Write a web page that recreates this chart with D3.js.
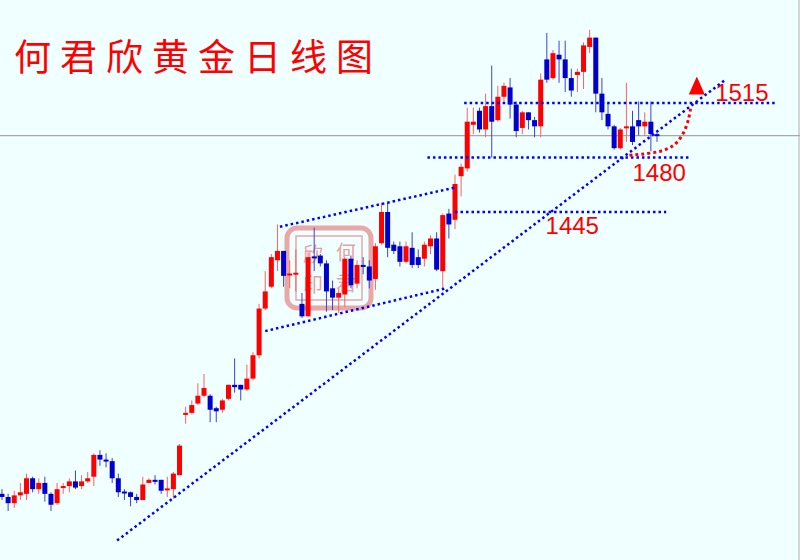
<!DOCTYPE html>
<html><head><meta charset="utf-8">
<script src="https://cdn.jsdelivr.net/npm/d3@7"></script>
<style>body{margin:0;background:#f0ffff}svg{display:block}</style>
</head><body><svg id="c" width="800" height="560"></svg>
<script>
// candles: [open, high, low, close]
const candles = [
[1264,1267,1260,1262],[1262,1264,1253,1258],[1258,1266,1255,1263],[1263,1271,1260,1265],[1264,1277,1260,1274],
[1274,1275,1265,1267],[1267,1274,1264,1271],[1271,1275,1259,1264],[1264,1265,1253,1257],[1258,1271,1257,1267],
[1268,1271,1264,1269],[1269,1274,1265,1272],[1272,1279,1267,1268],[1269,1276,1267,1272],[1272,1278,1271,1274],
[1275,1290,1269,1289],[1289,1292,1282,1286],[1286,1290,1281,1285],[1285,1287,1271,1274],[1274,1277,1262,1265],
[1265.5,1267,1260,1264.8],[1265,1265.5,1256,1262],[1262,1264,1258,1260],[1260,1275,1260,1270],[1271,1274,1271,1273],
[1273,1276,1270,1272.5],[1273,1273,1264,1266],[1267,1275,1262,1267.5],[1267,1278,1261,1277],[1276,1296,1276,1295],
[1315.5,1320,1309,1316],[1316,1324,1315,1321],[1322,1335,1321,1327],[1327,1341,1326,1332],[1327,1328,1310,1318],
[1319,1320,1310,1317],[1318,1325,1316,1324],[1325,1334,1324,1334],[1334,1351,1329,1332.5],[1334,1334,1324,1331],
[1331,1347,1330,1338],[1338,1355,1337,1353],[1353,1386,1351,1383],[1383,1407,1382,1394],[1397,1418,1396,1416],
[1414,1437,1407,1420],[1420,1420,1397,1404],[1405,1414,1396,1405.5],[1405,1421,1394,1406],[1386,1393,1377,1378],
[1378,1419,1378,1416],[1416.5,1435,1407,1416],[1417,1418,1410,1412],[1412,1414,1381,1394],[1396,1401,1382,1390],
[1390,1396,1380,1393],[1392,1416,1384,1415],[1415,1417,1396,1398],[1399,1414,1396,1411],[1411,1416,1405,1410.5],
[1410,1414,1396,1401],[1402,1425,1395,1423],[1425,1451,1424,1445],[1445,1451,1416,1422],[1424,1426,1418,1420],
[1423,1426,1410,1413],[1413,1426,1412,1423],[1422,1432,1409,1411],[1416,1421,1409,1411],[1415,1426,1410,1424],
[1423,1430,1418,1428],[1428,1432,1407,1408],[1407,1444,1395,1443],[1444,1447,1428,1437],[1440,1469,1434,1463],
[1468,1476,1455,1474],[1473,1512,1471,1503],[1501,1512,1495,1503],[1510,1512,1496,1498],[1498,1521,1493,1513],
[1513,1539,1480,1503],[1504,1526,1503,1519],[1519,1528,1516,1526],[1525,1531,1505,1514],[1514,1516,1493,1497],
[1499,1510,1495,1509],[1509,1509,1498,1504],[1504,1506,1493,1500],[1500,1534,1493,1530],[1543,1560,1528,1530],
[1531,1549,1530,1547],[1546,1555,1528,1543],[1543,1555,1522,1531],[1531,1537,1519,1523],[1533,1537,1522,1535],
[1535,1554,1524,1552],[1551,1562,1547,1557],[1557,1557,1509,1521],[1521,1531,1504,1509],[1508,1515,1498,1500],
[1500,1501,1485,1486],[1486,1499,1485,1498],[1499,1528,1490,1500],[1500,1510,1488,1490],[1504,1516,1494,1500],
[1500,1509,1494,1503],[1503,1516,1484,1495],[1495,1496,1490,1494.5]
];
const levels = [1515, 1480, 1445];
const levelLabels = ["1515", "1480", "1445"];
const levelSpans = [[75.5, 126.5], [69.5, 112.5], [74, 108.5]]; // candle index range
const levelLabelPos = [[116.5, 1516.5], [103, 1465], [88.8, 1431]];
const title = "何君欣黄金日线图";
// trend lines in [index, price] pairs
const trendLines = [
  [[18.8, 1234], [118.2, 1530]],   // main support
  [[45.4, 1435.5], [74.3, 1461]],  // upper wedge
  [[43, 1368.5], [72.5, 1396]]     // lower wedge
];
const refPrice = 1494;
const curvePts = [[102.5, 1481.5], [106, 1482.5], [110, 1486], [112, 1500], [112.5, 1512]];
const arrowTip = [113.5, 1532];

const svg = d3.select("#c");
const W = 800, H = 560;
const x = d3.scaleLinear().domain([0, candles.length - 1]).range([2, 657]);
const y = d3.scaleLinear().domain([1515, 1445]).range([103, 212]);

svg.append("rect").attr("width", W).attr("height", H).attr("fill", "#f0ffff");
svg.append("line").attr("x1", 799).attr("x2", 799).attr("y1", 0).attr("y2", H).attr("stroke", "#b0b0b0");
svg.append("line").attr("x1", 0).attr("x2", W).attr("y1", y(refPrice)).attr("y2", y(refPrice))
  .attr("stroke", "#a8a8a8").attr("stroke-width", 1.2);

// stamp watermark
const st = svg.append("g").attr("opacity", 0.45);
st.append("rect").attr("x", 287).attr("y", 228).attr("width", 84).attr("height", 80).attr("rx", 10)
  .attr("fill", "none").attr("stroke", "#e24040").attr("stroke-width", 5);
st.append("rect").attr("x", 296).attr("y", 236).attr("width", 66).attr("height", 64)
  .attr("fill", "none").attr("stroke", "#e24040").attr("stroke-width", 1.5);
[["欣",313,262],["何",346,260],["印",313,292],["君",346,291]].forEach(d =>
  st.append("text").attr("x", d[1]).attr("y", d[2]).attr("text-anchor", "middle")
    .attr("font-family", "Noto Sans CJK SC").attr("font-size", 20).attr("fill", "#e03030").text(d[0]));

// candles
const g = svg.append("g");
candles.forEach((c, i) => {
  const [o, h, l, cl] = c;
  const up = cl >= o;
  const col = up ? "#ff0000" : "#0000cc";
  const cx = x(i);
  g.append("line").attr("x1", cx).attr("x2", cx).attr("y1", y(h)).attr("y2", y(l))
    .attr("stroke", up ? "#ff6060" : "#4040d8").attr("stroke-width", 1);
  const top = y(Math.max(o, cl)), bot = y(Math.min(o, cl));
  g.append("rect").attr("x", cx - 2.5).attr("y", top).attr("width", 5).attr("height", Math.max(2, bot - top)).attr("fill", col);
});

const dot = {stroke: "#0000ff", "stroke-width": 2.5, "stroke-dasharray": "2.5,3"};
function applyDot(s) { Object.entries(dot).forEach(([k, v]) => s.attr(k, v)); return s; }

levels.forEach((lv, k) => {
  applyDot(svg.append("line").attr("x1", x(levelSpans[k][0])).attr("x2", x(levelSpans[k][1]))
    .attr("y1", y(lv)).attr("y2", y(lv)));
  svg.append("text").attr("x", x(levelLabelPos[k][0])).attr("y", y(levelLabelPos[k][1]))
    .attr("font-family", "Liberation Sans, Arial").attr("font-size", 24).attr("fill", "#ff0000").text(levelLabels[k]);
});
trendLines.forEach(t => {
  applyDot(svg.append("line").attr("x1", x(t[0][0])).attr("y1", y(t[0][1])).attr("x2", x(t[1][0])).attr("y2", y(t[1][1])));
});

// red dotted curve and arrow
svg.append("path").attr("d", d3.line().x(d => x(d[0])).y(d => y(d[1])).curve(d3.curveBasis)(curvePts))
  .attr("fill", "none").attr("stroke", "#ff0000").attr("stroke-width", 3).attr("stroke-dasharray", "3,3");
const ax = x(arrowTip[0]), ay = y(arrowTip[1]);
svg.append("path").attr("d", `M${ax},${ay} L${ax - 8},${ay + 18} L${ax + 8},${ay + 18} Z`).attr("fill", "#ff0000");

// title
svg.append("text").attr("x", 14).attr("y", 71).attr("font-family", "Noto Sans CJK SC, serif")
  .attr("font-size", 37).attr("letter-spacing", 9).attr("fill", "#ff0000").text(title);
</script></body></html>
